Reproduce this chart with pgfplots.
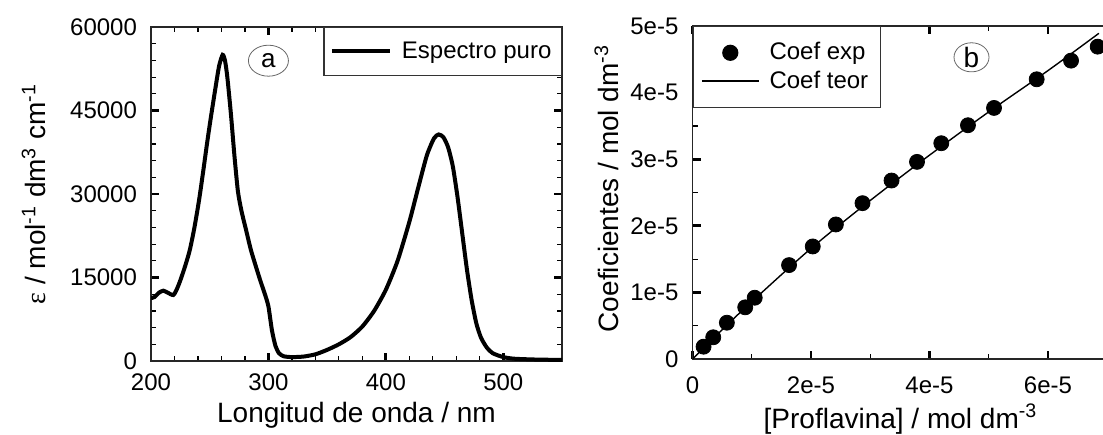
\documentclass[border=0pt]{standalone}
\usepackage{pgfplots}
\pgfplotsset{compat=1.18}
\usepackage{fontspec}
\setmainfont{Liberation Sans}
\newfontfamily\seriffont{Liberation Serif}
\usetikzlibrary{shapes.geometric}

\pgfplotsset{
  myaxis/.style={
    scale only axis,
    scaled ticks=false,
    axis line style={line width=0.8pt, black!85, -},
    major tick length=4pt,
    minor tick length=2.5pt,
    major tick style={line width=1.4pt, black},
    minor tick style={line width=0.6pt, black},
    tick label style={font=\fontsize{12}{14}\selectfont},
    label style={font=\fontsize{14}{16}\selectfont},
    /pgf/number format/assume math mode=true,
    legend style={font=\fontsize{12}{14}\selectfont, draw=black!80, line width=0.6pt,
      /tikz/every odd column/.append style={column sep=3pt}},
  },
  lineleg/.style={legend image code/.code={\draw[##1] (0pt,0pt) -- (#1,0pt);}},
  markleg/.style={legend image code/.code={\path (0pt,0pt) (2*#1,0pt); \draw[##1] plot coordinates {(#1,0pt)};}},
}

\begin{document}
\begin{tikzpicture}
% ---------------- panel a ----------------
\begin{axis}[myaxis,
  at={(75.5pt,36.5pt)}, anchor=south west,
  width=205.5pt, height=167pt,
  xmin=200, xmax=550, ymin=0, ymax=60000,
  xtick={200,300,400,500}, minor x tick num=4,
  ytick={0,15000,30000,45000,60000},
  yticklabels={0,15000,30000,45000,60000},
  minor y tick num=4,
  xticklabel style={yshift=-3pt},
  yticklabel style={xshift=-3.5pt},
  xlabel={Longitud de onda / nm},
  ylabel={{\seriffont ε} / mol\textsuperscript{-1} dm\textsuperscript{3} cm\textsuperscript{-1}},
  xlabel style={at={(axis description cs:0.5,-0.162)}, anchor=center},
  ylabel style={at={(axis description cs:-0.285,0.5)}, anchor=center},
  legend style={at={(1,1)}, anchor=north east, inner xsep=3pt, inner ysep=5pt},
  legend cell align=left,
]
\addplot[black, line width=2pt, smooth, tension=0.4, lineleg=29pt] coordinates {
(200,11300) (203,11500) (207,12300) (210.5,12630) (214,12300) (219,11850)
(222,12900) (225,14500) (229,17000) (233,19900) (237,24000) (241,29000)
(244.6,34300) (248,39500) (251,43800) (255,49200) (258,53000) (261,55000)
(263,54000) (265,51000) (268,44500) (271,37000) (274,30500) (277,27000)
(281,23500) (285,20000) (289,17200) (293,14500) (297,12000) (300,9800)
(303,5500) (306,2700) (309,1400) (313,850) (320,700) (330,800) (340,1200)
(350,2000) (360,3000) (370,4300) (380,6200) (390,9000) (400,12800)
(410,18000) (420,25000) (428,31500) (435,37000) (441,40000) (445,40700)
(449,40200) (453,38400) (457,35000) (461,29500) (465,23000) (469,16500)
(473,11000) (477,6800) (481,4200) (486,2400) (491,1400) (500,700)
(510,400) (530,250) (550,200)
};
\addlegendentry{Espectro puro}
\node[ellipse, draw=black!60, line width=0.4pt, minimum width=20pt,
  minimum height=15.5pt, inner sep=0pt, font=\fontsize{13}{15}\selectfont]
  at (axis cs:300,53950) {a};
\end{axis}

% ---------------- panel b ----------------
\begin{axis}[myaxis,
  at={(346.25pt,37.5pt)}, anchor=south west,
  width=210.3pt, height=166.5pt,
  xmin=0, xmax=7.1e-5, ymin=0, ymax=5e-5,
  xtick={0,2e-5,4e-5,6e-5}, xticklabels={0,2e-5,4e-5,6e-5},
  minor x tick num=1,
  ytick={0,1e-5,2e-5,3e-5,4e-5,5e-5},
  yticklabels={0,1e-5,2e-5,3e-5,4e-5,5e-5},
  minor y tick num=1,
  xticklabel style={yshift=-5.5pt},
  yticklabel style={xshift=-3.5pt},
  xlabel={[Proflavina] / mol dm\textsuperscript{-3}},
  ylabel={Coeficientes / mol dm\textsuperscript{-3}},
  xlabel style={at={(axis description cs:0.4945,-0.180)}, anchor=center},
  ylabel style={at={(axis description cs:-0.204,0.512)}, anchor=center},
  legend style={at={(0,1)}, anchor=north west, inner xsep=4pt, inner ysep=6pt,
    /tikz/every row/.append style={row sep=1pt}},
  legend cell align=left,
]
\addplot[only marks, mark=*, mark size=3.75pt, black, markleg=14.25pt] coordinates {
(0.187e-5,0.185e-5) (0.35e-5,0.326e-5) (0.58e-5,0.545e-5) (0.89e-5,0.776e-5)
(1.05e-5,0.92e-5) (1.63e-5,1.41e-5) (2.03e-5,1.69e-5) (2.42e-5,2.02e-5)
(2.87e-5,2.34e-5) (3.36e-5,2.68e-5) (3.79e-5,2.96e-5) (4.2e-5,3.24e-5)
(4.65e-5,3.51e-5) (5.09e-5,3.77e-5) (5.81e-5,4.2e-5) (6.39e-5,4.48e-5)
(6.84e-5,4.69e-5)
};
\addlegendentry{Coef exp}
\addplot[black, line width=0.7pt, smooth, lineleg=28.5pt] coordinates {
(0,0) (0.5e-5,0.44e-5) (1e-5,0.86e-5) (2e-5,1.66e-5) (3e-5,2.38e-5)
(4e-5,3.06e-5) (5e-5,3.71e-5) (6e-5,4.33e-5) (6.86e-5,4.89e-5)
};
\addlegendentry{Coef teor}
\node[ellipse, draw=black!60, line width=0.4pt, minimum width=17.5pt,
  minimum height=14pt, inner sep=0pt, font=\fontsize{14}{16}\selectfont]
  at (axis cs:4.71e-5,4.53e-5) {b};
\end{axis}
\pgfresetboundingbox
\useasboundingbox (0pt,0pt) rectangle (551.5pt,217pt);
\end{tikzpicture}
\end{document}
